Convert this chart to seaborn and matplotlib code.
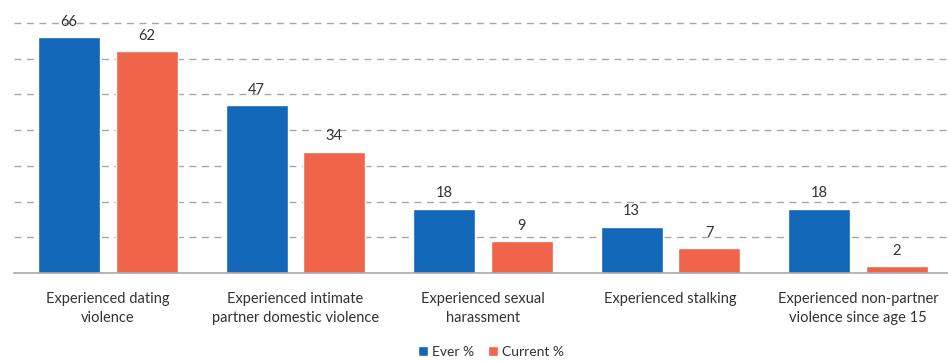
import matplotlib
matplotlib.use("Agg")
import matplotlib.pyplot as plt
import seaborn as sns
import pandas as pd
from matplotlib.patches import Patch

categories = ["Experienced dating\nviolence",
              "Experienced intimate\npartner domestic violence",
              "Experienced sexual\nharassment",
              "Experienced stalking",
              "Experienced non-partner\nviolence since age 15"]
ever = [66, 47, 18, 13, 18]
current = [62, 34, 9, 7, 2]
series = ["Ever %", "Current %"]
colors = ["#1267b8", "#f0644a"]

df = pd.DataFrame({
    "category": categories * 2,
    "value": ever + current,
    "series": [series[0]] * len(categories) + [series[1]] * len(categories),
})

sns.set_style("white")
plt.rcParams["font.family"] = ["Lato", "DejaVu Sans"]

fig = plt.figure(figsize=(9.48, 3.61), dpi=100)
ax = fig.add_axes([14/948, 1 - 273/361, 1 - 14/948 + 0.004, 273/361])

sns.barplot(data=df, x="category", y="value", hue="series", palette=colors,
            width=0.827, gap=0.2, ax=ax, legend=False, saturation=1)

ax.set_ylim(0, 76.4)
ax.set_xlim(-0.5, 4.5)
ax.set_yticks(range(10, 80, 10))
ax.yaxis.grid(True, linestyle=(0, (5, 4)), color="#a8a8a8", linewidth=1)
ax.set_axisbelow(True)
for s in ["top", "right", "left"]:
    ax.spines[s].set_visible(False)
ax.spines["bottom"].set_color("#a8a8a8")
ax.spines["bottom"].set_linewidth(1.2)
ax.tick_params(axis="y", left=False, labelleft=False)
ax.tick_params(axis="x", bottom=False, labelsize=10.5, colors="#333333", pad=10)
for lbl in ax.get_xticklabels():
    lbl.set_linespacing(1.45)
ax.set_xlabel("")
ax.set_ylabel("")

for cont in ax.containers:
    for bar in cont:
        h = bar.get_height()
        ax.annotate(f"{h:.0f}", (bar.get_x() + bar.get_width() / 2, h),
                    xytext=(0, 6), textcoords="offset points",
                    ha="center", va="bottom", fontsize=10.5, color="#333333")

handles = [Patch(facecolor=c, label=l) for c, l in zip(colors, series)]
fig.legend(handles=handles, loc="center", bbox_to_anchor=(491/948, 1 - 352/361),
           ncol=2, frameon=False, fontsize=10, handlelength=0.7, handleheight=0.7,
           handletextpad=0.3, columnspacing=1.0, labelcolor="#333333")

fig.savefig("out.png", dpi=100)
